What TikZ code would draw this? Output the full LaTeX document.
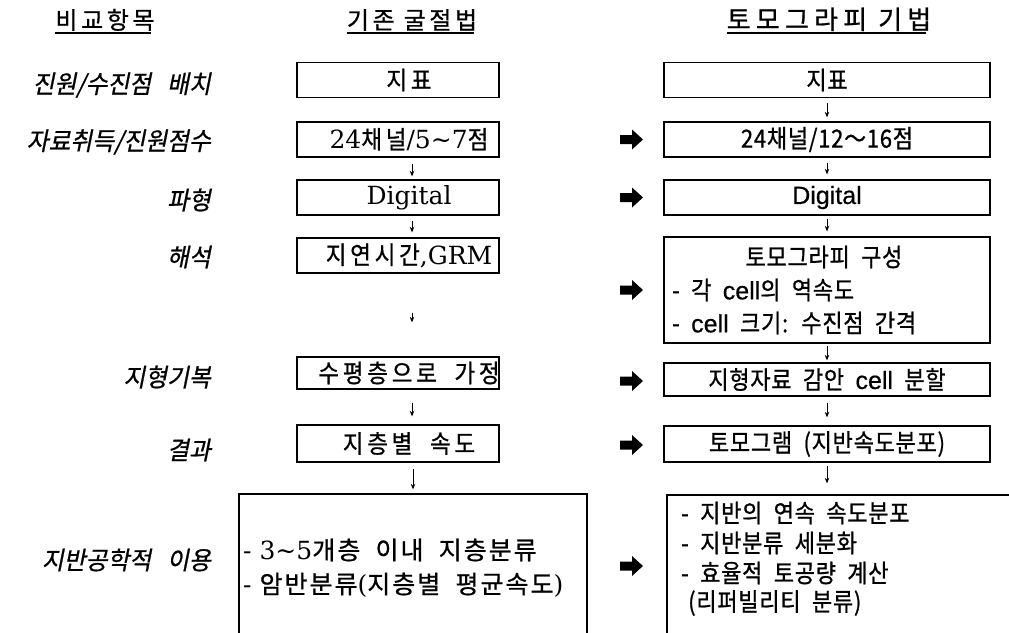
\documentclass[tikz,border=0pt]{standalone}
\usepackage{fontspec}
\setmainfont{Noto Sans CJK KR}
\newfontfamily\hdf[LetterSpace=15,FakeBold=0.8]{Noto Sans CJK KR}
\newfontfamily\hdg[LetterSpace=20,FakeBold=0.8]{Noto Sans CJK KR}
\newfontfamily\labf[FakeSlant=0.2,FakeStretch=0.95,WordSpace=3,FakeBold=0.8]{Noto Sans CJK KR}
\newfontfamily\klf[FakeStretch=0.9,LetterSpace=15,WordSpace=2,FakeBold=0.8]{Noto Sans CJK KR}
\newfontfamily\kbf[LetterSpace=8,WordSpace=2,FakeBold=0.8]{Noto Sans CJK KR}
\newfontfamily\serf{DejaVu Serif}
\newfontfamily\krf[FakeStretch=0.88,LetterSpace=3,WordSpace=2,FakeBold=0.8]{Noto Sans CJK KR}
\newfontfamily\latf[FakeBold=0.5]{Liberation Sans}
\usetikzlibrary{arrows.meta,calc}
\newcommand\fsz{\fontsize{25}{29}\selectfont}
\newcommand\sr[1]{{\serf #1}}
\newcommand\la[1]{{\latf #1}}
\newcommand\lb[1]{\makebox[202pt]{\hspace*{22pt}#1}}
\tikzset{
  box/.style={draw, line width=1.3, minimum height=35, inner sep=0},
  lbox/.style={box, minimum width=202, font={\klf\fsz}},
  rbox/.style={box, minimum width=326, font={\krf\fsz}},
  lab/.style={anchor=east, inner sep=0, font={\labf\fontsize{25}{29}\selectfont}},
  hd/.style={anchor=base, inner sep=0},
  uline/.style={line width=1.4},
  rtxt/.style={anchor=west, inner sep=0, font={\krf\fsz}},
  ltxt/.style={anchor=west, inner sep=0, font={\kbf\fsz}},
  sarr/.style={-{Stealth[length=5.5,width=4.5]}, line width=0.9},
  bigarrow/.pic={\fill (-11,-4.5) -- (1,-4.5) -- (1,-10) -- (12,0) -- (1,10) -- (1,4.5) -- (-11,4.5) -- cycle;}
}
\begin{document}
\begin{tikzpicture}[x=1pt,y=-1pt]
\fill[white] (0,0) rectangle (1009,632);
\useasboundingbox (0,0) rectangle (1009,632);

% headers
\node[hd, font={\hdf\fontsize{24}{28}\selectfont}] (H1) at (105,29) {비교항목};
\node[hd, font={\hdf\fontsize{24}{28}\selectfont}] (H2) at (412,29) {기존 굴절법};
\node[hd, font={\hdg\fontsize{26}{30}\selectfont}] (H3) at (829,29) {토모그라피 기법};
\foreach \h/\t in {H1/3.6,H2/3.6,H3/5.2}
  \draw[uline] ($(\h.base west)+(0,4)$) -- ($(\h.base east)+(-\t,4)$);

% row labels
\node[lab] (C1) at (211,85) {진원/수진점 배치};
\node[lab] (C2) at (211,142) {자료취득/진원점수};
\node[lab] (C3) at (211,200) {파형};
\node[lab] (C4) at (211,257) {해석};
\node[lab] (C5) at (211,377) {지형기복};
\node[lab] (C6) at (211,450) {결과};
\node[lab] (C7) at (211,560) {지반공학적 이용};

% left column
\node[lbox] (L1) at (398,80) {\lb{지표}};
\node[lbox] (L2) at (398,139.5) {\lb{\sr{24}채널\sr{/5∼7}점}};
\node[lbox] (L3) at (398,197.5) {\lb{\sr{Digital}}};
\node[lbox] (L4) at (398,255.5) {\lb{지연시간\sr{,GRM}}};
\node[lbox, minimum height=32] (L5) at (398,373) {\lb{수평층으로 가정}};
\node[lbox, minimum height=37] (L6) at (398,443.5) {\lb{지층별 속도}};
\node[box, minimum width=348, minimum height=146] (L7) at (413,567) {};
\node[ltxt] (L7a) at (243,550) {\sr{- 3∼5}개층 이내 지층분류};
\node[ltxt] (L7b) at (243,585) {\sr{- }암반분류\sr{(}지층별 평균속도\sr{)}};

% right column
\node[rbox] (R1) at (827,80) {지표};
\node[rbox] (R2) at (827,139.5) {24채널/12～16점};
\node[rbox] (R3) at (827,197.5) {\la{Digital}};
\node[box, minimum width=326, minimum height=106] (R4) at (827,290) {};
\node[inner sep=0, font={\krf\fsz}] (R4t) at (824,257) {토모그라피 구성};
\node[rtxt] (R4a) at (672,290) {- 각 \la{cell}의 역속도};
\node[rtxt] (R4b) at (672,323) {- \la{cell} 크기: 수진점 간격};
\node[rbox, minimum height=33] (R5) at (827,379.5) {지형자료 감안 \la{cell} 분할};
\node[rbox, minimum height=36] (R6) at (827,444) {토모그램 (지반속도분포)};
\node[box, minimum width=372, minimum height=167] (R7) at (853,578.5) {};
\node[rtxt] (R7a) at (681,513) {- 지반의 연속 속도분포};
\node[rtxt] (R7b) at (681,543) {- 지반분류 세분화};
\node[rtxt] (R7c) at (681,573) {- 효율적 토공량 계산};
\node[rtxt] (R7d) at (688,603) {(리퍼빌리티 분류)};

% left arrows
\draw[sarr, shorten <=6, shorten >=3] ($(L2.south)+(14,0)$) -- ($(L3.north)+(14,0)$);
\draw[sarr, shorten <=5, shorten >=5] ($(L3.south)+(14,0)$) -- ($(L4.north)+(14,0)$);
\draw[sarr, shorten <=39, shorten >=34] ($(L4.south)+(14,0)$) -- ($(L5.north)+(14,0)$);
\draw[sarr, shorten <=13, shorten >=8] ($(L5.south)+(14,0)$) -- ($(L6.north)+(14,0)$);
\draw[sarr, shorten <=6, shorten >=4] (L7.north |- L6.south) -- (L7.north);

% right arrows
\draw[sarr, shorten <=5, shorten >=4] (R1.south) -- (R2.north);
\draw[sarr, shorten <=5, shorten >=5] (R2.south) -- (R3.north);
\draw[sarr, shorten <=3, shorten >=5] (R3.south) -- (R4.north);
\draw[sarr, shorten <=2, shorten >=2] (R4.south) -- (R5.north);
\draw[sarr, shorten <=6, shorten >=8] (R5.south) -- (R6.north);
\draw[sarr, shorten <=3, shorten >=11] (R6.south) -- (R6.south |- R7.north);

% thick arrows between columns
\foreach \yy in {139.5,197.5,290,381,445,566}
  \pic at (631,\yy) {bigarrow};
\end{tikzpicture}
\end{document}
